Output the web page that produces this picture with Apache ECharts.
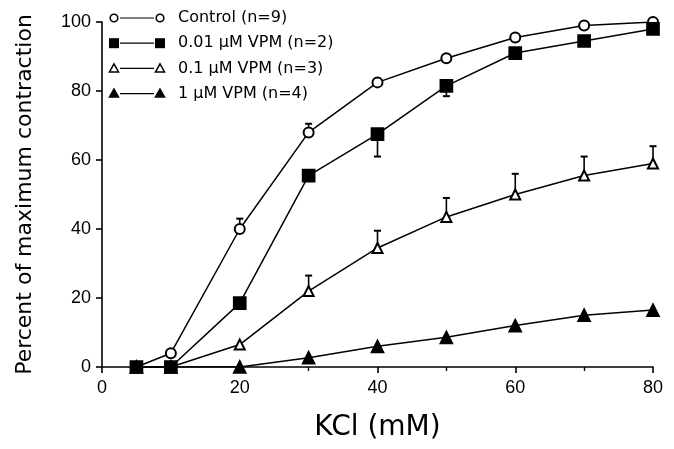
<!DOCTYPE html>
<html>
<head>
<meta charset="utf-8">
<script src="https://cdn.jsdelivr.net/npm/echarts@6/dist/echarts.min.js"></script>
<style>
  html, body { margin: 0; padding: 0; background: #fff; }
  #chart { width: 674px; height: 449px; }
</style>
</head>
<body>
<div id="chart"></div>
<script>
// KCl concentration (mM)
const kcl = [5, 10, 20, 30, 40, 50, 60, 70, 80];

// percent of maximum contraction
const control = [0, 4, 40, 68, 82.5, 89.5, 95.5, 99, 100];
const vpm001 = [0, 0, 18.5, 55.5, 67.5, 81.5, 91, 94.5, 98];
const vpm01 = [0, 0, 6.5, 22, 34.5, 43.5, 50, 55.5, 59];
const vpm1 = [0, 0, 0, 2.7, 6, 8.6, 12, 15, 16.5];

// error bar end points (null = no visible bar)
const controlErr = [null, null, 43, 70.5, null, null, null, null, null];
const vpm001Err = [null, null, null, null, 61, 78.5, null, null, 96.5];
const vpm01Err = [null, null, null, 26.5, 39.5, 49, 56, 61, 64];

const legendNames = [
  'Control (n=9)',
  '0.01 \u03bcM VPM (n=2)',
  '0.1 \u03bcM VPM (n=3)',
  '1 \u03bcM VPM (n=4)'
];

const INK = '#000';
const FONT = '"Liberation Sans", Arial, sans-serif';
const WIDE = '"DejaVu Sans", sans-serif';

function pairs(ys) {
  return kcl.map((x, i) => [x, ys[i]]);
}

function errPairs(ys, ends) {
  const out = [];
  kcl.forEach((x, i) => {
    if (ends[i] != null) out.push([x, ys[i], ends[i]]);
  });
  return out;
}

function errorSeries(data) {
  return {
    type: 'custom',
    z: 1,
    silent: true,
    data: data,
    encode: { x: 0, y: [1, 2] },
    renderItem: function (params, api) {
      const p0 = api.coord([api.value(0), api.value(1)]);
      const p1 = api.coord([api.value(0), api.value(2)]);
      const style = { stroke: INK, lineWidth: 1.6 };
      return {
        type: 'group',
        children: [
          { type: 'line', shape: { x1: p0[0], y1: p0[1], x2: p1[0], y2: p1[1] }, style: style },
          { type: 'line', shape: { x1: p1[0] - 3.5, y1: p1[1], x2: p1[0] + 3.5, y2: p1[1] }, style: { stroke: INK, lineWidth: 2 } }
        ]
      };
    }
  };
}

function lineSeries(name, ys, symbol, size) {
  return {
    name: name,
    type: 'line',
    z: 3,
    data: pairs(ys),
    symbol: symbol,
    symbolSize: size,
    showAllSymbol: true,
    lineStyle: { color: INK, width: 1.5 },
    itemStyle: { color: INK, borderColor: INK, borderWidth: 1.7 },
    emphasis: { disabled: true },
    animation: false
  };
}

// hand-drawn legend: marker -- line -- marker, then label
const legendSymbols = [
  { type: 'circle', fill: '#fff' },
  { type: 'rect', fill: INK },
  { type: 'triangle', fill: '#fff' },
  { type: 'triangle', fill: INK }
];

function legendMarker(kind, cx, cy) {
  const s = 9;
  if (kind.type === 'circle') {
    return { type: 'circle', shape: { cx: cx, cy: cy, r: 3.8 }, style: { fill: kind.fill, stroke: INK, lineWidth: 1.6 } };
  }
  if (kind.type === 'rect') {
    return { type: 'rect', shape: { x: cx - 5, y: cy - 5, width: 10, height: 10 }, style: { fill: kind.fill } };
  }
  return {
    type: 'polygon',
    shape: { points: [[cx, cy - s / 2], [cx + s / 2, cy + s / 2 - 1], [cx - s / 2, cy + s / 2 - 1]] },
    style: { fill: kind.fill, stroke: INK, lineWidth: 1.5 }
  };
}

const legendGraphics = [];
legendNames.forEach((name, i) => {
  const y = 18 + i * 25.2;
  legendGraphics.push(legendMarker(legendSymbols[i], 114, y));
  legendGraphics.push({ type: 'line', shape: { x1: 120, y1: y, x2: 154, y2: y }, style: { stroke: INK, lineWidth: 1.2 } });
  legendGraphics.push(legendMarker(legendSymbols[i], 160, y));
  legendGraphics.push({
    type: 'text',
    x: 178, y: y,
    style: { text: name, font: '16px ' + WIDE, fill: INK, verticalAlign: 'middle' }
  });
});

const chart = echarts.init(document.getElementById('chart'), null, { renderer: 'canvas' });

chart.setOption({
  backgroundColor: '#fff',
  animation: false,
  grid: { left: 102, right: 21, top: 22, bottom: 82 },
  xAxis: {
    type: 'value',
    min: 0, max: 80, interval: 20,
    name: 'KCl (mM)',
    nameLocation: 'middle',
    nameGap: 47,
    nameTextStyle: { fontSize: 28, color: INK, fontFamily: WIDE },
    axisLine: { onZero: false, lineStyle: { color: INK, width: 1.6 } },
    axisTick: { inside: false, length: 6, lineStyle: { color: INK, width: 1.6 } },
    minorTick: { show: true, splitNumber: 2, length: 4, lineStyle: { color: INK, width: 1.4 } },
    axisLabel: { fontSize: 18, color: INK, fontFamily: FONT, margin: 12 },
    splitLine: { show: false }
  },
  yAxis: {
    type: 'value',
    min: 0, max: 100, interval: 20,
    name: 'Percent of maximum contraction',
    nameLocation: 'middle',
    nameGap: 66,
    nameTextStyle: { fontSize: 22, color: INK, fontFamily: WIDE },
    axisLine: { show: true, onZero: false, lineStyle: { color: INK, width: 1.6 } },
    axisTick: { show: true, length: 6, lineStyle: { color: INK, width: 1.6 } },
    axisLabel: { fontSize: 18, color: INK, fontFamily: FONT, margin: 11 },
    splitLine: { show: false }
  },
  series: [
    errorSeries(errPairs(control, controlErr)),
    errorSeries(errPairs(vpm001, vpm001Err)),
    errorSeries(errPairs(vpm01, vpm01Err)),
    lineSeries(legendNames[0], control, 'emptyCircle', 10),
    lineSeries(legendNames[1], vpm001, 'rect', 12),
    lineSeries(legendNames[2], vpm01, 'emptyTriangle', 10),
    lineSeries(legendNames[3], vpm1, 'triangle', 12)
  ],
  graphic: legendGraphics
});
</script>
</body>
</html>
